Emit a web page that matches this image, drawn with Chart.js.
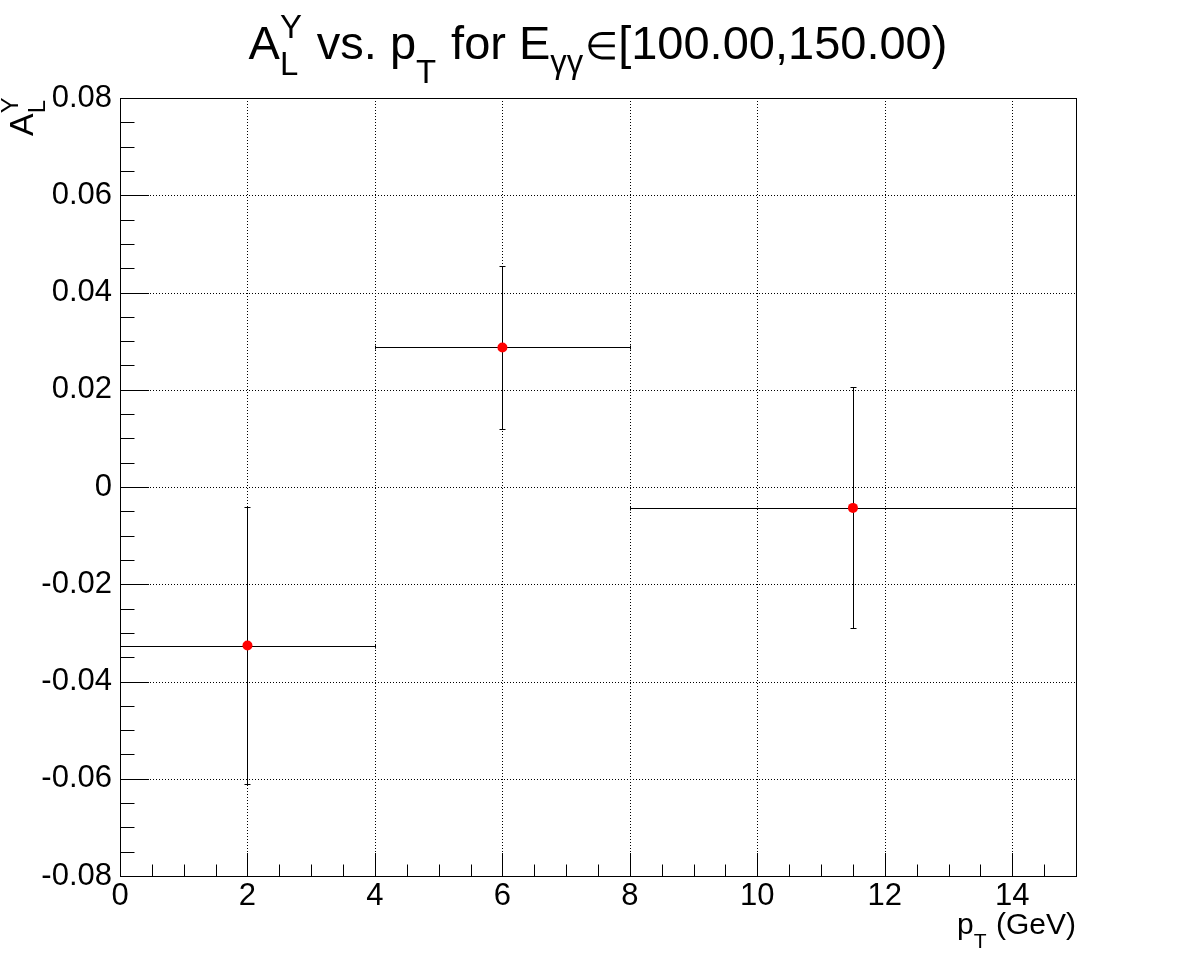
<!DOCTYPE html>
<html>
<head>
<meta charset="utf-8">
<script src="https://cdn.jsdelivr.net/npm/chart.js@4.4.0/dist/chart.umd.min.js"></script>
<style>
  html, body { margin: 0; padding: 0; background: #fff; }
  #wrap { width: 1196px; height: 974px; }
</style>
</head>
<body>
<div id="wrap"><canvas id="chart" width="1196" height="974"></canvas></div>
<script>
// A_L^Y vs pT, one point per pT bin
const ptCenters = [2, 6, 11.5];
const ptLow = [0, 4, 8];
const ptHigh = [4, 8, 15];
const asymValues = [-0.0326, 0.0287, -0.0043];
const asymErrors = [0.0285, 0.0167, 0.0248];

const xTickLabels = ['0', '2', '4', '6', '8', '10', '12', '14'];
const yTickLabels = ['-0.08', '-0.06', '-0.04', '-0.02', '0', '0.02', '0.04', '0.06', '0.08'];

const FONT = "'Liberation Sans', Arial, Helvetica, sans-serif";

// small TLatex-like helper: parts are {t, scale} or {sub, sup, off}
function latexWidth(ctx, parts, fs) {
  let w = 0;
  parts.forEach(p => {
    if (p.t !== undefined) {
      ctx.font = (fs * (p.scale || 1)) + 'px ' + FONT;
      w += ctx.measureText(p.t).width;
    } else {
      ctx.font = (fs * 0.7) + 'px ' + FONT;
      const a = p.sub ? ctx.measureText(p.sub).width : 0;
      const b = p.sup ? ctx.measureText(p.sup).width : 0;
      w += Math.max(a, b) + fs * 0.04;
    }
  });
  return w;
}

function drawLatex(ctx, parts, x, y, fs, align) {
  const w = latexWidth(ctx, parts, fs);
  let cx = align === 'right' ? x - w : align === 'center' ? x - w / 2 : x;
  ctx.textAlign = 'left';
  ctx.textBaseline = 'alphabetic';
  ctx.fillStyle = '#000';
  parts.forEach(p => {
    if (p.t !== undefined) {
      ctx.font = (fs * (p.scale || 1)) + 'px ' + FONT;
      ctx.fillText(p.t, cx, y);
      cx += ctx.measureText(p.t).width;
    } else {
      ctx.font = (fs * 0.7) + 'px ' + FONT;
      let a = 0, b = 0;
      if (p.sub) {
        ctx.fillText(p.sub, cx, y + fs * (p.off || 0.34));
        a = ctx.measureText(p.sub).width;
      }
      if (p.sup) {
        ctx.fillText(p.sup, cx, y - fs * 0.45);
        b = ctx.measureText(p.sup).width;
      }
      cx += Math.max(a, b) + fs * 0.04;
    }
  });
}

const titleParts = [
  { t: 'A' }, { sub: 'L', sup: 'Y' }, { t: ' vs. p' }, { sub: 'T', off: 0.5 },
  { t: ' for E' }, { sub: 'γγ', off: 0.3 }, { t: '∈', scale: 0.8 }, { t: '[100.00,150.00)' }
];
const yTitleParts = [{ t: 'A' }, { sub: 'L', sup: 'Y' }];
const xTitleParts = [{ t: 'p' }, { sub: 'T', off: 0.45 }, { t: ' (GeV)' }];

const rootFrame = {
  id: 'rootFrame',
  beforeDatasetsDraw(chart) {
    const ctx = chart.ctx;
    const xs = chart.scales.x, ys = chart.scales.y;
    const a = chart.chartArea;
    ctx.save();
    ctx.strokeStyle = '#000';
    ctx.lineWidth = 1;

    // dotted grid at the major ticks
    ctx.setLineDash([1, 2]);
    ctx.beginPath();
    xTickLabels.forEach(l => {
      const px = Math.round(xs.getPixelForValue(+l)) + 0.5;
      ctx.moveTo(px, a.top); ctx.lineTo(px, a.bottom);
    });
    yTickLabels.forEach(l => {
      const py = Math.round(ys.getPixelForValue(+l)) + 0.5;
      ctx.moveTo(a.left, py); ctx.lineTo(a.right, py);
    });
    ctx.stroke();
    ctx.setLineDash([]);

    // frame
    ctx.strokeRect(Math.round(a.left) + 0.5, Math.round(a.top) + 0.5,
      Math.round(a.right - a.left), Math.round(a.bottom - a.top));

    // inner ticks, 4 minor divisions per major
    ctx.beginPath();
    for (let i = 0; i < xTickLabels.length; i++) {
      const v0 = +xTickLabels[i];
      for (let k = 0; k < 4; k++) {
        const v = v0 + k * 0.5;
        if (v > xs.max) break;
        const px = Math.round(xs.getPixelForValue(v)) + 0.5;
        const len = k === 0 ? 23 : 11.5;
        ctx.moveTo(px, a.bottom); ctx.lineTo(px, a.bottom - len);
      }
    }
    for (let i = 0; i < yTickLabels.length; i++) {
      const v0 = +yTickLabels[i];
      for (let k = 0; k < 4; k++) {
        const v = v0 + k * 0.005;
        if (v > ys.max + 1e-9) break;
        const py = Math.round(ys.getPixelForValue(v)) + 0.5;
        const len = k === 0 ? 29 : 14.5;
        ctx.moveTo(a.left, py); ctx.lineTo(a.left + len, py);
      }
    }
    ctx.stroke();

    // error bars
    ctx.beginPath();
    for (let i = 0; i < ptCenters.length; i++) {
      const px = Math.round(xs.getPixelForValue(ptCenters[i])) + 0.5;
      const py = Math.round(ys.getPixelForValue(asymValues[i])) + 0.5;
      const x1 = Math.round(xs.getPixelForValue(ptLow[i])) + 0.5;
      const x2 = Math.round(xs.getPixelForValue(ptHigh[i])) + 0.5;
      const y1 = Math.round(ys.getPixelForValue(asymValues[i] + asymErrors[i])) + 0.5;
      const y2 = Math.round(ys.getPixelForValue(asymValues[i] - asymErrors[i])) + 0.5;
      ctx.moveTo(x1, py); ctx.lineTo(x2, py);
      ctx.moveTo(px, y1); ctx.lineTo(px, y2);
      ctx.moveTo(px - 3, y1); ctx.lineTo(px + 3, y1);
      ctx.moveTo(px - 3, y2); ctx.lineTo(px + 3, y2);
      ctx.moveTo(x1, py - 2); ctx.lineTo(x1, py + 2);
      ctx.moveTo(x2, py - 2); ctx.lineTo(x2, py + 2);
    }
    ctx.stroke();
    ctx.restore();
  },
  afterDraw(chart) {
    const ctx = chart.ctx;
    const a = chart.chartArea;
    ctx.save();
    drawLatex(ctx, titleParts, 598, 59, 47, 'center');
    drawLatex(ctx, xTitleParts, a.right, 934, 30, 'right');
    ctx.translate(33, a.top - 2);
    ctx.rotate(-Math.PI / 2);
    drawLatex(ctx, yTitleParts, 0, 0, 34, 'right');
    ctx.restore();
  }
};

const points = ptCenters.map((x, i) => ({ x: x, y: asymValues[i] }));

new Chart(document.getElementById('chart').getContext('2d'), {
  type: 'scatter',
  data: {
    datasets: [{
      data: points,
      pointRadius: 5,
      pointHoverRadius: 5,
      pointBackgroundColor: '#ff0000',
      pointBorderWidth: 0,
      showLine: false
    }]
  },
  options: {
    responsive: false,
    animation: false,
    devicePixelRatio: 1,
    layout: { padding: { left: 0, right: 120, top: 98, bottom: 0 } },
    plugins: { legend: { display: false }, tooltip: { enabled: false }, title: { display: false } },
    scales: {
      x: {
        type: 'linear', min: 0, max: 15,
        afterFit(s) { s.height = 98; },
        afterBuildTicks(s) { s.ticks = xTickLabels.map(l => ({ value: +l })); },
        grid: { display: false, drawTicks: false },
        border: { display: false },
        ticks: {
          callback: (v, i) => xTickLabels[i],
          color: '#000', font: { family: FONT, size: 31 },
          padding: 2, maxRotation: 0, autoSkip: false
        }
      },
      y: {
        type: 'linear', min: -0.08, max: 0.08,
        afterFit(s) { s.width = 120; },
        afterBuildTicks(s) { s.ticks = yTickLabels.map(l => ({ value: +l })); },
        grid: { display: false, drawTicks: false },
        border: { display: false },
        ticks: {
          callback: (v, i) => yTickLabels[i],
          color: '#000', font: { family: FONT, size: 31 },
          padding: 8, autoSkip: false
        }
      }
    }
  },
  plugins: [rootFrame]
});
</script>
</body>
</html>
